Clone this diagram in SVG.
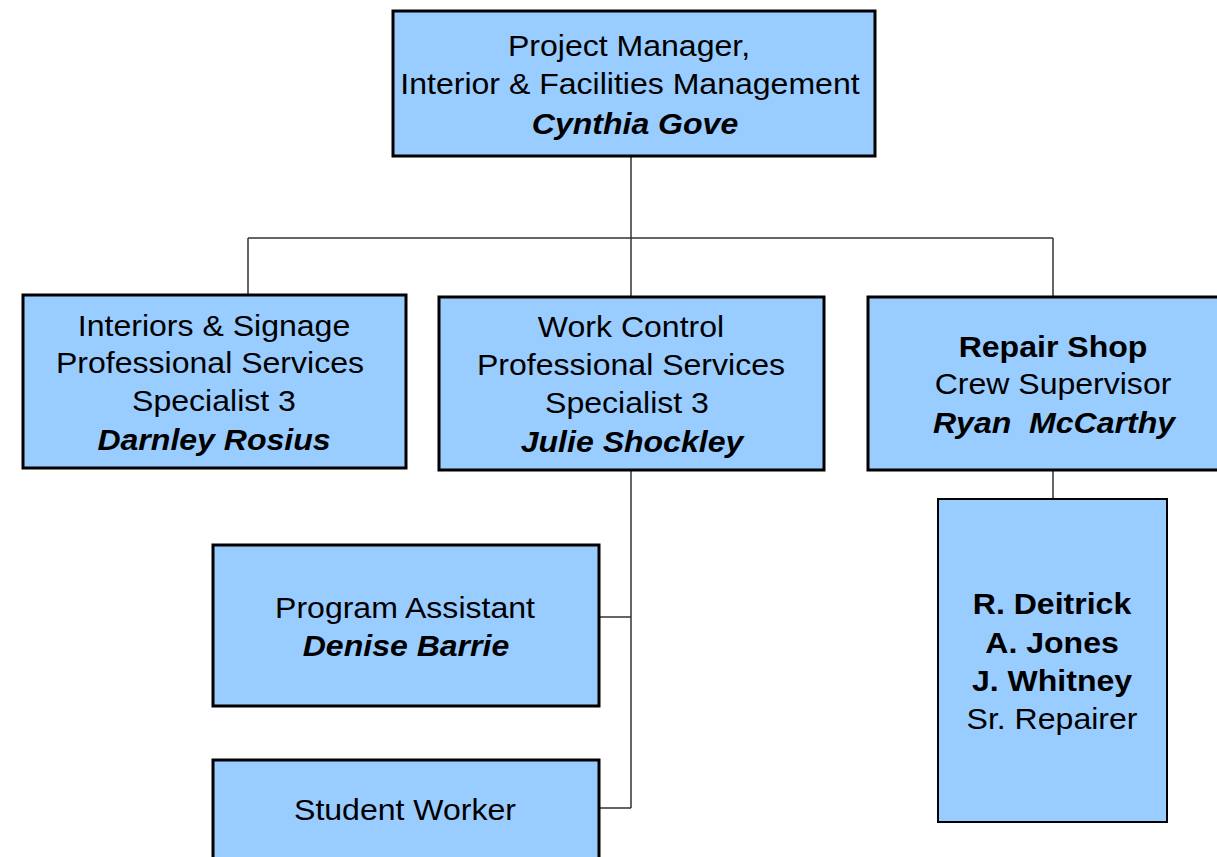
<svg xmlns="http://www.w3.org/2000/svg" width="1217" height="857" viewBox="0 0 1217 857">
<style>
.box{fill:#99CCFF;stroke:#000;stroke-width:3}
.thin{fill:#99CCFF;stroke:#000;stroke-width:2}
text{font-family:"Liberation Sans",Arial,sans-serif;font-size:29px;fill:#000;text-anchor:middle}
.n{font-weight:bold;font-style:italic}
.b{font-weight:bold}
.c{fill:none;stroke:#333;stroke-width:1.5}
</style>
<rect width="1217" height="857" fill="#fff"/>
<g id="connectors">
<path class="c" d="M631,156V296M248,238H1053M248,238V295M1053,238V297M1053,470V499M631,470V808M599,617H631M599,808H631"/>
</g>
<g id="pm">
<rect class="box" x="393" y="11" width="482" height="145"/>
<text transform="translate(629,56) scale(1.105,1)">Project Manager,</text>
<text transform="translate(630,94) scale(1.105,1)">Interior &amp; Facilities Management</text>
<text transform="translate(635,134) scale(1.105,1)" class="n">Cynthia Gove</text>
</g>
<g id="interiors">
<rect class="box" x="23" y="295" width="383" height="173"/>
<text transform="translate(214,336) scale(1.105,1)">Interiors &amp; Signage</text>
<text transform="translate(210,373) scale(1.105,1)">Professional Services</text>
<text transform="translate(214,411) scale(1.105,1)">Specialist 3</text>
<text transform="translate(214,450) scale(1.105,1)" class="n">Darnley Rosius</text>
</g>
<g id="workcontrol">
<rect class="box" x="439" y="297" width="385" height="173"/>
<text transform="translate(631,337) scale(1.105,1)">Work Control</text>
<text transform="translate(631,375) scale(1.105,1)">Professional Services</text>
<text transform="translate(627,413) scale(1.105,1)">Specialist 3</text>
<text transform="translate(632,452) scale(1.105,1)" class="n">Julie Shockley</text>
</g>
<g id="repairshop">
<rect class="box" x="868" y="297" width="372" height="173"/>
<text transform="translate(1053,357) scale(1.105,1)" class="b">Repair Shop</text>
<text transform="translate(1053,394) scale(1.105,1)">Crew Supervisor</text>
<text transform="translate(1054,433) scale(1.105,1)" class="n" xml:space="preserve">Ryan  McCarthy</text>
</g>
<g id="repairers">
<rect class="thin" x="938" y="499" width="229" height="323"/>
<text transform="translate(1052,614) scale(1.105,1)" class="b">R. Deitrick</text>
<text transform="translate(1052,653) scale(1.105,1)" class="b">A. Jones</text>
<text transform="translate(1052,691) scale(1.105,1)" class="b">J. Whitney</text>
<text transform="translate(1052,729) scale(1.105,1)">Sr. Repairer</text>
</g>
<g id="programassistant">
<rect class="box" x="213" y="545" width="386" height="161"/>
<text transform="translate(405,618) scale(1.105,1)">Program Assistant</text>
<text transform="translate(406,656) scale(1.105,1)" class="n">Denise Barrie</text>
</g>
<g id="studentworker">
<rect class="box" x="213" y="760" width="386" height="110"/>
<text transform="translate(405,820) scale(1.105,1)">Student Worker</text>
</g>
</svg>
